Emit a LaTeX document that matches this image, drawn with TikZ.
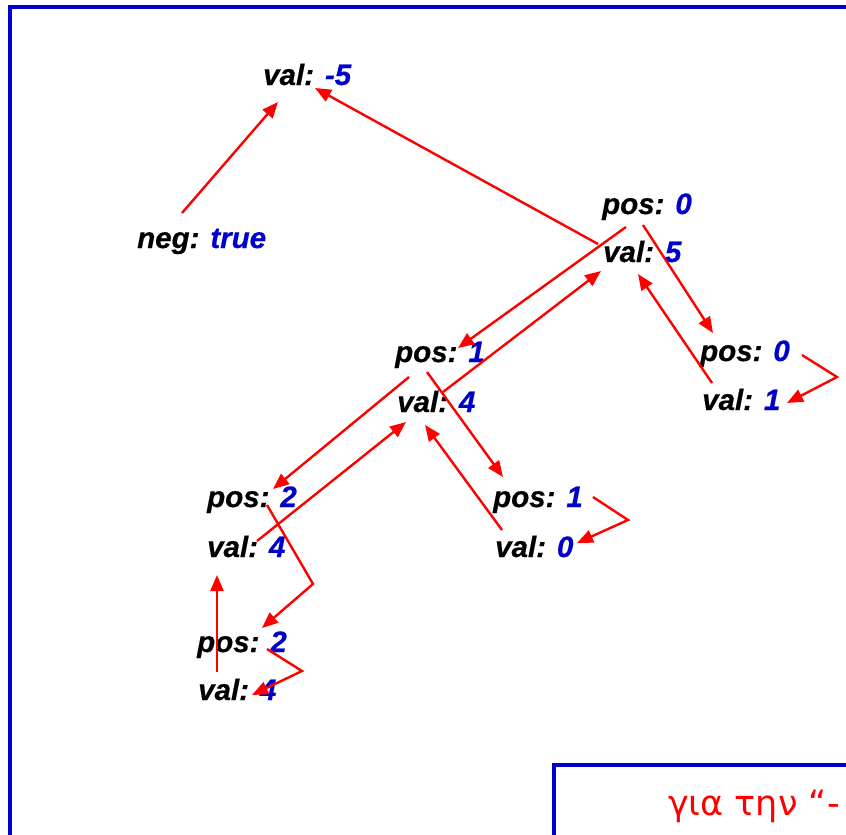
\documentclass[tikz,border=0pt]{standalone}
\usepackage{fontspec}
\setmainfont{Liberation Sans}
\newfontfamily\lblfont[BoldItalicFeatures={FakeBold=0.5}]{Liberation Sans}
\newfontfamily\greekfont{DejaVu Sans}
\usetikzlibrary{arrows.meta,calc}
\definecolor{vblue}{RGB}{0,0,204}
\definecolor{fblue}{RGB}{0,0,204}
\tikzset{
  lbl/.style={inner sep=0pt, anchor=base west,
    font=\lblfont\fontsize{29.5}{34}\selectfont\bfseries\itshape},
  link/.style={draw=red, line width=2.4pt,
    -{Triangle[length=16pt,width=13pt]}},
  frame/.style={draw=fblue, line width=4pt}
}
\newcommand{\vv}[1]{\textcolor{vblue}{#1}}
\begin{document}
\begin{tikzpicture}[x=1pt,y=1pt]
\useasboundingbox (0,0) rectangle (846,-835);
\clip (0,0) rectangle (846,-835);
\fill[white] (0,0) rectangle (846,-835);

% slide frame and the lower text box
\draw[frame] (10,-845) -- (10,-7) -- (856,-7);
\draw[frame] (554,-845) -- (554,-765) -- (856,-765);
\node[inner sep=0pt, anchor=base west, text=red,
  font=\greekfont\fontsize{35}{40}\selectfont] (note) at (668,-815) {για την “-};

% tree nodes
\node[lbl] (A)   at (263,-85)  {val: \vv{-5}};
\node[lbl] (N)   at (137,-248) {neg: \vv{true}};
\node[lbl] (P0)  at (602,-214) {pos: \vv{0}};
\node[lbl] (V5)  at (603,-262) {val: \vv{5}};
\node[lbl] (P0r) at (700,-361) {pos: \vv{0}};
\node[lbl] (V1)  at (702,-410) {val: \vv{1}};
\node[lbl] (P1)  at (395,-362) {pos: \vv{1}};
\node[lbl] (V4m) at (397,-412) {val: \vv{4}};
\node[lbl] (P1r) at (493,-507) {pos: \vv{1}};
\node[lbl] (V0)  at (495,-557) {val: \vv{0}};
\node[lbl] (P2)  at (207,-507) {pos: \vv{2}};
\node[lbl] (V4l) at (207,-557) {val: \vv{4}};
\node[lbl] (P2b) at (197,-652) {pos: \vv{2}};
\node[lbl] (V4b) at (198,-700) {val: \vv{4}};

% connectors
\draw[link] ($(N.base west)+(45,35)$) -- ($(A.base west)+(15,-17)$);
\draw[link] ($(V5.base west)+(-5,18)$) -- ($(A.base west)+(52,-3)$);
\draw[link] ($(P0.base west)+(41,-11)$) -- ($(P0r.base west)+(13,28)$);
\draw[link] ($(V1.base west)+(10,27)$) -- ($(V5.base west)+(35,-12)$);
\draw[link] ($(P0r.base west)+(102,6)$) -- ++(35,-22) -- ($(V1.base west)+(85,7)$);
\draw[link] ($(P0.base west)+(24,-13)$) -- ($(P1.base west)+(63,14)$);
\draw[link] ($(V4m.base west)+(46,20)$) -- ($(V5.base west)+(-2,-9)$);
\draw[link] ($(P1.base west)+(14,-15)$) -- ($(P2.base west)+(66,18)$);
\draw[link] ($(V4l.base west)+(50,16)$) -- ($(V4m.base west)+(9,-10)$);
\draw[link] ($(V0.base west)+(7,27)$) -- ($(V4m.base west)+(28,-13)$);
\draw[link] ($(P1.base west)+(32,-10)$) -- ($(P1r.base west)+(10,30)$);
\draw[link] ($(P1r.base west)+(100,10)$) -- ++(35,-23) -- ($(V0.base west)+(82,14)$);
\draw[link] ($(P2.base west)+(60,2)$) -- ++(46,-79) -- ($(P2b.base west)+(65,24)$);
\draw[link] ($(V4b.base west)+(19,28)$) -- ($(V4l.base west)+(10,-18)$);
\draw[link] ($(P2b.base west)+(70,3)$) -- ++(35,-22) -- ($(V4b.base west)+(54,5)$);
\end{tikzpicture}
\end{document}
